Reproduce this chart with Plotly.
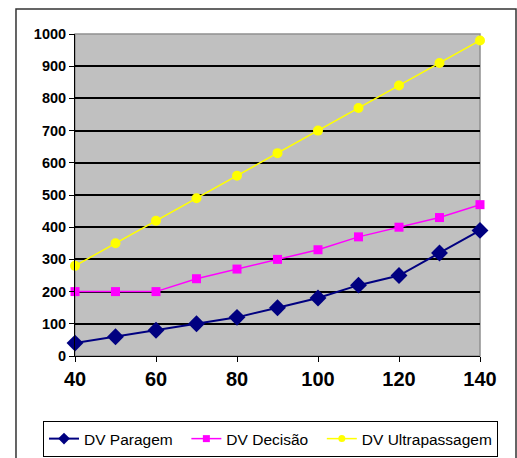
import plotly.graph_objects as go

speeds = [40, 50, 60, 70, 80, 90, 100, 110, 120, 130, 140]
dv_paragem = [40, 60, 80, 100, 120, 150, 180, 220, 250, 320, 390]
dv_decisao = [200, 200, 200, 240, 270, 300, 330, 370, 400, 430, 470]
dv_ultra = [280, 350, 420, 490, 560, 630, 700, 770, 840, 910, 980]
x_ticks = [40, 60, 80, 100, 120, 140]
y_ticks = [0, 100, 200, 300, 400, 500, 600, 700, 800, 900, 1000]

FONT = "Liberation Sans, Arial, sans-serif"
NB = "\u00a0\u00a0"

series = [
    ("DV Paragem", dv_paragem, "#000080", 2, "diamond", 13, 9, NB),
    ("DV Decisão", dv_decisao, "#FF00FF", 1.5, "square", 9, 7, NB),
    ("DV Ultrapassagem", dv_ultra, "#FFFF00", 1.5, "circle", 10, 7, ""),
]

fig = go.Figure()
for name, vals, color, lw, sym, ms, lms, pad in series:
    fig.add_trace(go.Scatter(x=speeds, y=vals, name=name, mode="lines+markers",
                             line=dict(color=color, width=lw), showlegend=False,
                             marker=dict(symbol=sym, size=ms, color=color), cliponaxis=False))
for name, vals, color, lw, sym, ms, lms, pad in series:
    fig.add_trace(go.Scatter(x=[None], y=[None], name=name + pad, mode="lines+markers",
                             line=dict(color=color, width=lw),
                             marker=dict(symbol=sym, size=lms, color=color)))

fig.update_layout(
    width=517, height=458,
    margin=dict(l=75, r=37, t=34, b=102, autoexpand=False),
    paper_bgcolor="white", plot_bgcolor="#C0C0C0",
    font=dict(family=FONT, color="black"),
    showlegend=True,
    legend=dict(orientation="h", x=-0.079, y=-0.202, xanchor="left", yanchor="top",
                bordercolor="black", borderwidth=1, font=dict(size=15.5, family=FONT),
                bgcolor="white", tracegroupgap=0),
    xaxis=dict(range=[40, 140], tickvals=x_ticks, ticktext=[str(v) for v in x_ticks],
               showgrid=False, zeroline=False, showline=True, linecolor="black", linewidth=1,
               ticks="outside", ticklen=5, tickcolor="black",
               tickfont=dict(size=20, family=FONT, weight="bold")),
    yaxis=dict(range=[0, 1000], tickvals=y_ticks, showgrid=True, gridcolor="black", gridwidth=1.5,
               zeroline=False, showline=True, linecolor="black", linewidth=1,
               ticks="outside", ticklen=5, tickcolor="black",
               tickfont=dict(size=14.5, family=FONT, weight="bold")),
    shapes=[
        dict(type="rect", xref="paper", yref="paper", x0=0, x1=1, y0=0, y1=1,
             line=dict(color="#909090", width=1.5), layer="below"),
        dict(type="rect", xref="paper", yref="paper", x0=-0.1457, x1=1.0889, y0=-0.4, y1=1.0776,
             line=dict(color="#333333", width=1.5), layer="below"),
    ],
)

fig.write_html("out.html", config={"displayModeBar": False},
               post_script="document.body.style.margin='0';document.body.style.overflow='hidden';")
